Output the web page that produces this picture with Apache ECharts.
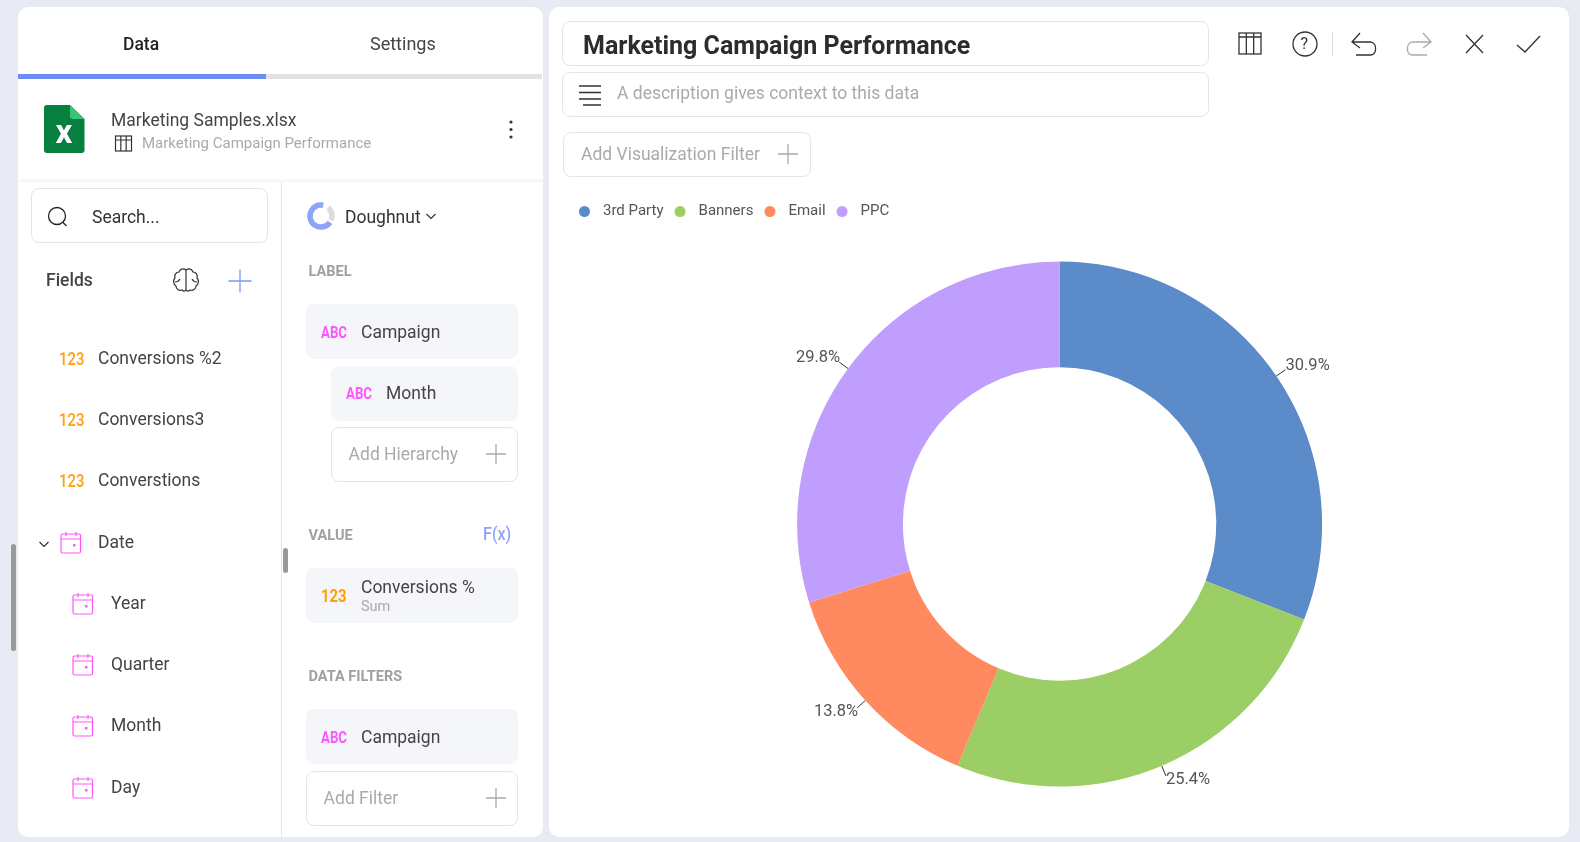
<!DOCTYPE html>
<html>
<head>
<meta charset="utf-8">
<title>Marketing Campaign Performance</title>
<script src="https://cdn.jsdelivr.net/npm/echarts@6/dist/echarts.min.js"></script>
<style>
html, body { margin: 0; padding: 0; width: 1580px; height: 842px; overflow: hidden; background: #e8ebf4; font-family: Roboto, sans-serif; }
.box { position: absolute; box-sizing: border-box; }
.txt { position: absolute; white-space: nowrap; height: 40px; line-height: 40px; z-index: 3; }
#icons { position: absolute; left: 0; top: 0; z-index: 2; }
#chartArea { position: absolute; left: 549px; top: 180px; width: 1020px; height: 657px; z-index: 1; }
</style>
</head>
<body>
<div id="ui"></div>
<div id="chartArea"></div>
<svg id="icons" width="1580" height="842" fill="none"></svg>
<script>
// chart data
var campaigns = ['3rd Party', 'Banners', 'Email', 'PPC'];
var conversionsPct = [30.9, 25.4, 13.8, 29.8];
var campaignColors = ['#5b8bc9', '#9bce64', '#ff8a60', '#c09efd'];

// side panel field lists
var numberFields = ['Conversions %2', 'Conversions3', 'Converstions'];
var dateParts = ['Year', 'Quarter', 'Month', 'Day'];

var ui = document.getElementById('ui');
var svg = '';

function box(x0, y0, x1, y1, bg, border, radius) {
    var d = document.createElement('div');
    d.className = 'box';
    d.style.cssText = 'left:' + x0 + 'px;top:' + y0 + 'px;width:' + (x1 - x0) + 'px;height:' + (y1 - y0) + 'px;background:' + bg +
        ';border-radius:' + (radius || 0) + 'px;' + (border ? 'border:1px solid ' + border + ';' : '');
    ui.appendChild(d);
}
function txt(s, x, y, size, color, weight, squeeze) {
    var d = document.createElement('div');
    d.className = 'txt';
    d.textContent = s;
    d.style.cssText = 'left:' + x + 'px;top:' + (y - 20) + 'px;font-size:' + size + 'px;color:' + color + ';font-weight:' + (weight || 400) + ';' +
        (squeeze ? 'transform:scaleX(' + squeeze + ');transform-origin:left center;' : '');
    ui.appendChild(d);
}
function plus(cx, cy, s, color) {
    svg += '<path d="M' + (cx - s) + ' ' + cy + 'H' + (cx + s) + 'M' + cx + ' ' + (cy - s) + 'V' + (cy + s) + '" stroke="' + color + '" stroke-width="1.3"/>';
}
function calendar(x, y) {
    svg += '<g stroke="#ff55ff" stroke-width="1.2"><rect x="' + x + '" y="' + (y + 2) + '" width="19.5" height="19" rx="1.5"/>' +
        '<path d="M' + x + ' ' + (y + 7) + 'H' + (x + 19.5) + 'M' + (x + 5) + ' ' + y + 'V' + (y + 4) + 'M' + (x + 15) + ' ' + y + 'V' + (y + 4) + '"/></g>' +
        '<rect x="' + (x + 12) + '" y="' + (y + 12) + '" width="2.5" height="2.5" fill="#ff55ff"/>';
}
function tableIcon(x, y, w, h, sw) {
    var c = w / 3;
    svg += '<g stroke="#333" stroke-width="' + sw + '"><rect x="' + x + '" y="' + y + '" width="' + w + '" height="' + h + '"/>' +
        '<path d="M' + x + ' ' + (y + 4) + 'H' + (x + w) + 'M' + (x + c) + ' ' + y + 'V' + (y + h) + 'M' + (x + 2 * c) + ' ' + y + 'V' + (y + h) + '"/></g>';
}
function chevron(cx, cy) {
    svg += '<path d="M' + (cx - 4.5) + ' ' + (cy - 2) + 'L' + cx + ' ' + (cy + 2.5) + 'L' + (cx + 4.5) + ' ' + (cy - 2) + '" stroke="#333" stroke-width="1.2"/>';
}

var CHIP = '#f5f6fa', LINE = '#e4e5e8', DARK = '#444', GREY = '#aaa', MAGENTA = '#ff55ff', ORANGE = '#ff9f0f', BLUE = '#7c97f5';

// panels
box(18, 7, 543, 837, '#fff', null, 10);
box(549, 7, 1569, 837, '#fff', null, 10);

// tabs
box(18, 74, 266, 79, '#6f8cf5');
box(266, 74, 542, 79, '#e3e3e3');
txt('Data', 123, 44, 17.5, '#222', 500);
txt('Settings', 370, 44, 18, '#444', 400);

// data source row
svg += '<path d="M47 105H70L84.5 119V150a3 3 0 0 1-3 3H47a3 3 0 0 1-3-3V108a3 3 0 0 1 3-3Z" fill="#07803f"/>' +
    '<path d="M70 105L84.5 119H73a3 3 0 0 1-3-3Z" fill="#35c677"/>';
txt('x', 55.5, 132, 33, '#fff', 700);
txt('Marketing Samples.xlsx', 111, 120, 17.5, '#444');
tableIcon(115.5, 136, 16, 15, 1.2);
txt('Marketing Campaign Performance', 142, 143, 15, GREY);
svg += '<circle cx="511" cy="122" r="1.6" fill="#333"/><circle cx="511" cy="129.5" r="1.6" fill="#333"/><circle cx="511" cy="137" r="1.6" fill="#333"/>';
box(18, 179, 543, 182, '#f7f7f9');
box(281, 182, 282, 837, LINE);

// fields column
box(31, 188, 268, 243, '#fff', LINE, 8);
svg += '<circle cx="57" cy="216" r="8.5" stroke="#222" stroke-width="1.3"/><path d="M63 222.5L66.5 226" stroke="#222" stroke-width="1.3"/>';
txt('Search...', 92, 217, 17.5, '#333');
txt('Fields', 46, 280, 17.5, '#444', 500);
svg += '<path d="M186 270c-3-2-6-1-7 2c-3 0-5 3-4 6c-2 2-2 6 1 8c0 3 3 5 6 4c2 2 4 1 4-1ZM186 270c3-2 6-1 7 2c3 0 5 3 4 6c2 2 2 6-1 8c0 3-3 5-6 4c-2 2-4 1-4-1ZM186 270V289M175 282c2 0 4-1 5-3M197 282c-2 0-4-1-5-3" stroke="#333" stroke-width="1.2"/>';
plus(240, 281, 11.5, BLUE);

var numberY = [359, 420, 481];
for (var i = 0; i < numberFields.length; i++) {
    txt('123', 59, numberY[i], 17.5, ORANGE, 500, 0.85);
    txt(numberFields[i], 98, numberY[i] - 1, 17.5, DARK);
}
chevron(44, 544);
calendar(61, 532);
txt('Date', 98, 542, 17.5, DARK);
var dateY = [603, 664, 725, 787];
for (var j = 0; j < dateParts.length; j++) {
    calendar(73, dateY[j] - 10);
    txt(dateParts[j], 111, dateY[j], 17.5, DARK);
}
box(11, 544, 16, 651, '#999', null, 3);
box(283, 548, 288, 573, '#999', null, 3);

// visualization column
svg += '<circle cx="321" cy="216" r="11" stroke="#8ea4f6" stroke-width="5.5" stroke-dasharray="47 22" transform="rotate(35 321 216)"/>' +
    '<circle cx="321" cy="216" r="11" stroke="#dcdcdc" stroke-width="5.500" stroke-dasharray="14 55" transform="rotate(-50 321 216)"/>';
txt('Doughnut', 345, 217, 17.5, '#333');
chevron(431, 216);

txt('LABEL', 308.6, 272, 14.5, '#a0a0a0', 700);
box(306, 304, 518, 359, CHIP, null, 8);
txt('ABC', 320.5, 332, 17, MAGENTA, 700, 0.78);
txt('Campaign', 361, 332, 17.5, DARK);
box(331, 366, 518, 421, CHIP, null, 8);
txt('ABC', 345.5, 393, 17, MAGENTA, 700, 0.78);
txt('Month', 386, 393, 17.5, DARK);
box(331, 427, 518, 482, '#fff', LINE, 8);
txt('Add Hierarchy', 348.6, 454, 17.5, GREY);
plus(496, 454, 10, '#aaa');

txt('VALUE', 308.6, 536, 14.5, '#a0a0a0', 700);
txt('F(x)', 483, 534, 19, '#8fa4f5', 500, 0.85);
box(306, 568, 518, 623, CHIP, null, 8);
txt('123', 321, 596, 17.5, ORANGE, 700, 0.85);
txt('Conversions %', 361, 587, 17.5, DARK);
txt('Sum', 361, 607, 14.5, GREY);

txt('DATA FILTERS', 308.6, 677, 14.5, '#a0a0a0', 700);
box(306, 709, 518, 764, CHIP, null, 8);
txt('ABC', 320.5, 737, 17, MAGENTA, 700, 0.78);
txt('Campaign', 361, 737, 17.5, DARK);
box(306, 771, 518, 826, '#fff', LINE, 8);
txt('Add Filter', 323.6, 798, 17.5, GREY);
plus(496, 798, 10, '#aaa');

// right panel header
box(562, 21, 1209, 66, '#fff', LINE, 8);
txt('Marketing Campaign Performance', 583, 45.5, 25, '#2c2c2c', 700);
box(562, 72, 1209, 117, '#fff', LINE, 8);
svg += '<path d="M579 86H601M579 92.5H601M579 99H601M583 105H601" stroke="#333" stroke-width="1.3"/>';
txt('A description gives context to this data', 617, 93, 17.5, GREY);
box(563, 132, 811, 177, '#fff', LINE, 8);
txt('Add Visualization Filter', 581, 154, 17.5, GREY);
plus(788, 154, 10, '#aaa');

tableIcon(1239, 33, 22, 21, 1.3);
svg += '<circle cx="1305" cy="44" r="12" stroke="#333" stroke-width="1.3"/>';
txt('?', 1300.5, 44, 16, '#333');
box(1332, 32, 1333, 56, '#dcdcdc');
svg += '<path d="M1352 42H1370a5.5 5.5 0 0 1 5.500 5.500V50a5 5 0 0 1-5 5H1356M1360 33L1352 42L1360 48" stroke="#333" stroke-width="1.3"/>' +
    '<path d="M1431 42H1413a5.500 5.500 0 0 0-5.500 5.500V50a5 5 0 0 0 5 5H1427M1423 33L1431 42L1423 48" stroke="#aaa" stroke-width="1.3"/>' +
    '<path d="M1466 35L1483 53M1483 35L1466 53" stroke="#333" stroke-width="1.3"/>' +
    '<path d="M1517 45L1525 52L1540 36" stroke="#333" stroke-width="1.3"/>';

document.getElementById('icons').innerHTML = svg;

// doughnut
var pieData = [];
for (var k = 0; k < campaigns.length; k++) {
    pieData.push({ name: campaigns[k], value: conversionsPct[k], itemStyle: { color: campaignColors[k] } });
}
var myChart = echarts.init(document.getElementById('chartArea'));
myChart.setOption({
    animation: false,
    legend: {
        data: campaigns,
        left: 25,
        top: 19,
        icon: 'circle',
        itemWidth: 11,
        itemHeight: 11,
        itemGap: 11,
        textStyle: { fontFamily: 'Roboto', fontSize: 15, color: '#555', padding: [0, 0, 0, 8] }
    },
    series: [{
        type: 'pie',
        center: [510.6, 344],
        radius: [156.7, 262.5],
        startAngle: 90,
        clockwise: true,
        avoidLabelOverlap: false,
        data: pieData,
        emphasis: { disabled: true },
        label: {
            show: true,
            position: 'outside',
            formatter: function(p) { return p.value.toFixed(1) + '%'; },
            fontFamily: 'Roboto',
            fontSize: 16.5,
            color: '#555'
        },
        labelLine: { show: true, length: 11, length2: 0, smooth: false, lineStyle: { color: '#333', width: 1 } },
        labelLayout: function(params) {
            var right = params.labelRect.x > 510;
            var bottom = params.labelRect.y > 344;
            return { dx: right ? -5 : 6, dy: bottom ? 4 : -4 };
        }
    }]
});
</script>
</body>
</html>
